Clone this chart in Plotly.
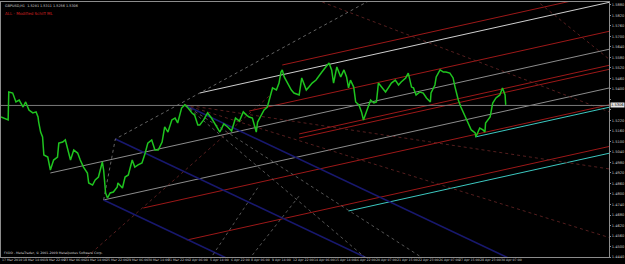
import plotly.graph_objects as go

# ---------------- data ----------------
# H1 bar index (0 = 17 Mar 2010 06:00) and price of the GBPUSD line
bar_idx = [0, 11, 12, 18, 23, 28, 34, 38, 43, 49, 54, 57, 58, 61, 64, 66, 72, 76, 81, 87, 89, 95, 99, 104,
           107, 112, 118, 122, 127, 133, 135, 141, 145, 150, 156, 158, 161, 164, 168, 173, 179, 180, 187,
           191, 196, 202, 206, 211, 217, 222, 226, 232, 237, 242, 248, 252, 257, 263, 268, 272, 278, 283,
           288, 294, 298, 303, 306, 312, 318, 324, 330, 337, 343, 349, 355, 361, 367, 373, 378, 382, 387,
           393, 395, 401, 405, 410, 413, 418, 424, 428, 431, 433, 436, 441, 447, 451, 459, 463, 470, 474,
           479, 485, 489, 494, 500, 505, 509, 512, 517, 523, 528, 532, 535, 538, 543, 546, 551, 555, 558,
           563, 569, 574, 578, 581, 586, 592, 597, 601, 607, 612, 616, 623, 627, 632, 635, 639, 645, 650,
           655, 661, 662, 668, 670, 676, 681, 685, 691, 696, 699, 701, 704, 708, 714, 719, 724, 730, 731,
           737, 742, 745, 746, 753, 757, 762, 768, 772, 776, 777]
price = [1.5240, 1.5223, 1.5383, 1.5377, 1.5326, 1.5337, 1.5297, 1.5326, 1.5280, 1.5263, 1.5269, 1.5240,
         1.5211, 1.5154, 1.5126, 1.5023, 1.5011, 1.4937, 1.4994, 1.5011, 1.5091, 1.5097, 1.5109, 1.5034,
         1.4994, 1.5051, 1.5034, 1.4994, 1.4954, 1.4920, 1.4863, 1.4851, 1.4880, 1.4897, 1.4983, 1.4937,
         1.4806, 1.4777, 1.4806, 1.4811, 1.4840, 1.4863, 1.4834, 1.4897, 1.4909, 1.4994, 1.4954, 1.4966,
         1.4977, 1.5034, 1.5091, 1.5109, 1.5051, 1.5051, 1.5097, 1.5183, 1.5154, 1.5223, 1.5234, 1.5206,
         1.5291, 1.5309, 1.5291, 1.5263, 1.5251, 1.5194, 1.5194, 1.5223, 1.5263, 1.5234, 1.5200, 1.5154,
         1.5200, 1.5183, 1.5160, 1.5234, 1.5217, 1.5269, 1.5251, 1.5240, 1.5234, 1.5154, 1.5211, 1.5251,
         1.5280, 1.5297, 1.5337, 1.5406, 1.5394, 1.5434, 1.5497, 1.5509, 1.5469, 1.5434, 1.5394, 1.5377,
         1.5366, 1.5463, 1.5394, 1.5411, 1.5434, 1.5451, 1.5469, 1.5497, 1.5526, 1.5549, 1.5509, 1.5434,
         1.5526, 1.5469, 1.5509, 1.5469, 1.5406, 1.5451, 1.5411, 1.5326, 1.5309, 1.5269, 1.5223, 1.5280,
         1.5337, 1.5320, 1.5326, 1.5434, 1.5411, 1.5383, 1.5411, 1.5434, 1.5451, 1.5423, 1.5440, 1.5463,
         1.5491, 1.5411, 1.5406, 1.5366, 1.5383, 1.5377, 1.5349, 1.5326, 1.5377, 1.5423, 1.5469, 1.5509,
         1.5497, 1.5497, 1.5491, 1.5463, 1.5411, 1.5377, 1.5337, 1.5297, 1.5251, 1.5211, 1.5166, 1.5149,
         1.5126, 1.5177, 1.5166, 1.5154, 1.5206, 1.5240, 1.5320, 1.5349, 1.5366, 1.5406, 1.5366, 1.5309]

# price scale labels and time labels
price_ticks = [1.4440, 1.4500, 1.4560, 1.4620, 1.4680, 1.4740, 1.4800, 1.4860, 1.4920, 1.4980, 1.5040,
               1.5100, 1.5160, 1.5220, 1.5280, 1.5340, 1.5400, 1.5460, 1.5520, 1.5580, 1.5640, 1.5700,
               1.5760, 1.5820, 1.5880]
time_tick_bars = [0, 32, 64, 96, 128, 160, 192, 224, 256, 288, 320, 352, 384, 416, 448, 480, 512, 544,
                  576, 608, 640, 672, 704, 736, 768]
time_tick_text = ["17 Mar 2010", "18 Mar 14:00", "19 Mar 22:00", "23 Mar 06:00", "24 Mar 14:00",
                  "25 Mar 22:00", "29 Mar 06:00", "30 Mar 14:00", "31 Mar 22:00", "2 Apr 06:00",
                  "5 Apr 14:00", "6 Apr 22:00", "8 Apr 06:00", "9 Apr 14:00", "12 Apr 22:00",
                  "14 Apr 06:00", "15 Apr 14:00", "16 Apr 22:00", "20 Apr 07:00", "21 Apr 15:00",
                  "22 Apr 23:00", "26 Apr 07:00", "27 Apr 15:00", "28 Apr 23:00", "30 Apr 07:00"]
bid_price = 1.5306

# Schiff pitchfork objects: anchor (bar, price) of each line
chan_start_bar = [76, 158, 219, 286, 535, 730, 306, 433, 382, 459, 459]
chan_start_price = [1.4920, 1.4766, 1.4720, 1.4537, 1.4703, 1.5126, 1.5377, 1.5537, 1.5274, 1.5143, 1.5120]
chan_kind = ["gray", "gray", "red", "red", "cyan", "cyan", "white", "red", "red", "red", "red"]
chan_slope = 0.0000822          # price per bar (rising median-line family)

react_start_bar = [176, 158, 283]
react_start_price = [1.5114, 1.4766, 1.5309]
react_slope = -0.0001756         # price per bar (reaction / trigger lines)

# fan from the 1 Apr high
fan_bar, fan_price = 283, 1.5309
fan_slopes = [-0.000314, -0.000239, -0.000116, -0.000056]
fan_kind = ["dgray", "dgray", "dred", "dred"]

# other dotted lines: start bar, start price, end bar, end price
dot_b0 = [486, 823, 132, 326, 387]
dot_p0 = [1.5909, 1.5909, 1.4440, 1.4451, 1.4451]
dot_b1 = [936, 936, 413, 398, 459]
dot_p1 = [1.5270, 1.5571, 1.5360, 1.4851, 1.4789]
dot_kind = ["dred", "dred", "dred", "dgray", "dgray"]

handle_bar = [158, 176, 569]
handle_price = [1.4766, 1.5114, 1.5909]

X_MAX = 936
Y_MIN, Y_MAX = 1.4440, 1.5897

colors = {"gray": "#8c8c8c", "white": "#cfcfcf", "red": "#9c1818", "cyan": "#3cc8c0",
          "blue": "#18186e", "dred": "#6a2626", "dgray": "#6a6a6a"}

fig = go.Figure()

def seg(x, y, color, width=1.0, dash=None):
    fig.add_trace(go.Scatter(x=x, y=y, mode="lines", line=dict(color=color, width=width, dash=dash),
                             hoverinfo="skip"))

for b0, p0, k in zip(chan_start_bar, chan_start_price, chan_kind):
    seg([b0, X_MAX], [p0, p0 + chan_slope * (X_MAX - b0)], colors[k])
for b0, p0 in zip(react_start_bar, react_start_price):
    seg([b0, X_MAX], [p0, p0 + react_slope * (X_MAX - b0)], colors["blue"], 1.6)
for s, k in zip(fan_slopes, fan_kind):
    seg([fan_bar, X_MAX], [fan_price, fan_price + s * (X_MAX - fan_bar)], colors[k], 0.8, "dot")
for b0, p0, b1, p1, k in zip(dot_b0, dot_p0, dot_b1, dot_p1, dot_kind):
    seg([b0, b1], [p0, p1], colors[k], 0.8, "dot")
seg(handle_bar, handle_price, "#7c7c7c", 0.8, "dot")
seg([0, X_MAX], [bid_price, bid_price], "#7a7a7a")
seg(bar_idx, price, "#1fc41f", 1.5)

# hide the scale label that sits under the bid box
shown_text = ["" if abs(v - bid_price) < 0.0035 else f"{v:.4f}" for v in price_ticks]

fig.update_layout(
    width=625, height=264, margin=dict(l=0, r=13, t=2, b=7),
    paper_bgcolor="black", plot_bgcolor="black", showlegend=False,
    xaxis=dict(range=[0, X_MAX], showgrid=False, zeroline=False, showticklabels=False,
               showline=True, linecolor="#8c8c8c", mirror=True),
    yaxis=dict(range=[Y_MIN, Y_MAX], side="right", showgrid=False, zeroline=False,
               tickvals=price_ticks, ticktext=shown_text,
               tickfont=dict(family="DejaVu Sans", size=3.6, color="#c8c8c8"),
               ticks="outside", ticklen=1, tickcolor="#8c8c8c",
               showline=True, linecolor="#8c8c8c", mirror=True),
)
for b, t in zip(time_tick_bars, time_tick_text):
    fig.add_annotation(x=b, y=0, xref="x", yref="paper", yanchor="top", xanchor="left",
                       text=t, showarrow=False, font=dict(family="DejaVu Sans", size=3.2, color="#c8c8c8"),
                       xshift=0, yshift=0, borderpad=0)
fig.add_annotation(x=X_MAX, y=bid_price, xref="x", yref="y", xanchor="left", text=f"{bid_price:.4f}",
                   showarrow=False, bgcolor="#e6e6e6", font=dict(family="DejaVu Sans", size=3.6, color="black"),
                   borderpad=0, xshift=1)
fig.add_annotation(x=0, y=1, xref="paper", yref="paper", xanchor="left", yanchor="top",
                   text="GBPUSD,H1  1.5281 1.5311 1.5256 1.5306", showarrow=False, xshift=3, yshift=-1,
                   font=dict(family="DejaVu Sans", size=3.4, color="#d0d0d0"), borderpad=0)
fig.add_annotation(x=0, y=1, xref="paper", yref="paper", xanchor="left", yanchor="top",
                   text="ALL - Modified Schiff ML", showarrow=False, xshift=3, yshift=-8,
                   font=dict(family="DejaVu Sans", size=4, color="#d02020"), borderpad=0)
fig.add_annotation(x=0, y=0, xref="paper", yref="paper", xanchor="left", yanchor="bottom",
                   text="FXDD - MetaTrader, © 2001-2009 MetaQuotes Software Corp.", showarrow=False,
                   xshift=2, yshift=1, font=dict(family="DejaVu Sans", size=3.2, color="#d0d0d0"),
                   borderpad=0)

fig.write_html("out.html")
